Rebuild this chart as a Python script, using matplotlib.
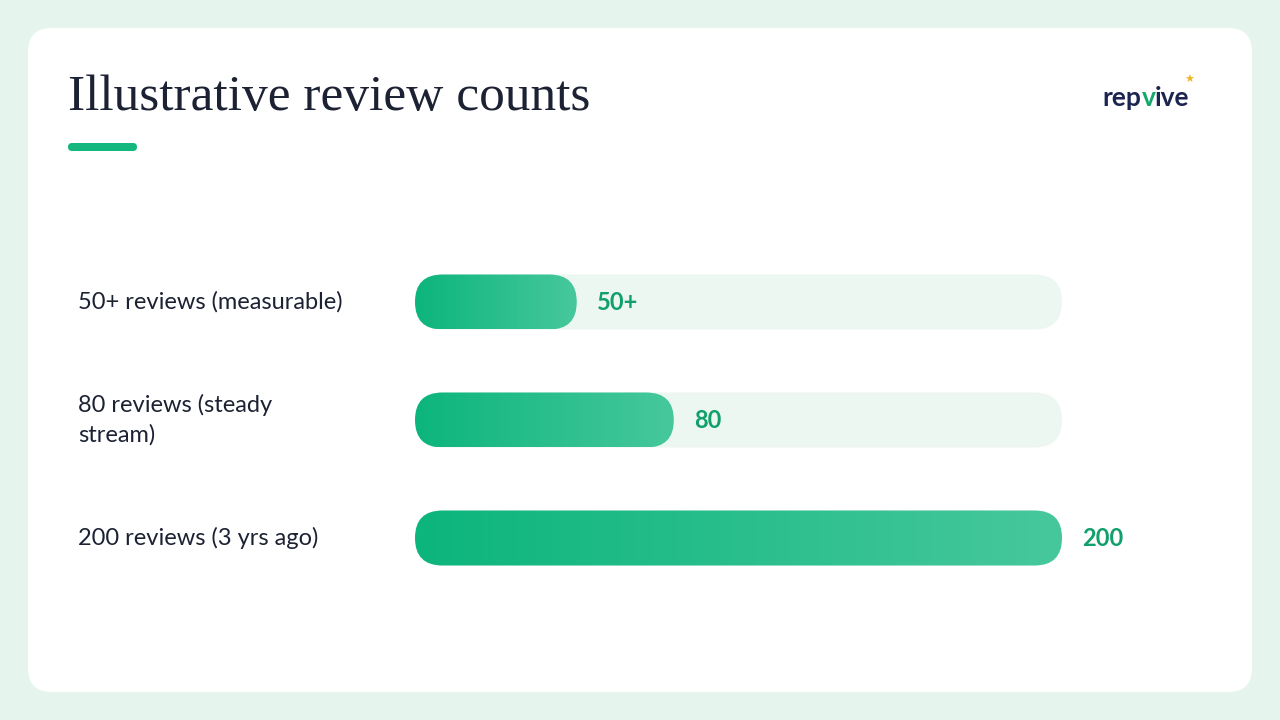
import matplotlib
matplotlib.use("Agg")
import matplotlib.pyplot as plt
import numpy as np
from matplotlib.patches import FancyBboxPatch
from matplotlib.colors import LinearSegmentedColormap

categories = ["50+ reviews (measurable)", "80 reviews (steady\nstream)", "200 reviews (3 yrs ago)"]
values = [50, 80, 200]
value_labels = ["50+", "80", "200"]
xmax = 200

W, H = 1280, 720
fig = plt.figure(figsize=(12.8, 7.2), dpi=100)
fig.patch.set_facecolor("#e6f4ee")

bg = fig.add_axes([0, 0, 1, 1]); bg.set_xlim(0, W); bg.set_ylim(H, 0); bg.axis("off")
bg.add_patch(FancyBboxPatch((28, 28), 1224, 664, boxstyle="round,pad=0,rounding_size=24",
                            fc="white", ec="none"))
bg.add_patch(FancyBboxPatch((68, 143), 69, 8, boxstyle="round,pad=0,rounding_size=4",
                            fc="#14b77e", ec="none"))
bg.text(68, 98, "Illustrative review counts", fontsize=37, family="Liberation Serif",
        color="#1c2233", va="center")
bg.text(1102, 98, "rep", fontsize=19, fontweight="bold", family="Lato", color="#1c2450", va="center")
bg.text(1142, 98, "v", fontsize=19, fontweight="bold", family="Lato", color="#14a86d", va="center")
bg.text(1155, 98, "ive", fontsize=19, fontweight="bold", family="Lato", color="#1c2450", va="center")
bg.text(1184, 80, "★", fontsize=8, color="#f0b429", va="center")

left, right, top, bottom = 415, 1062, 250, 590
ax = fig.add_axes([left / W, 1 - bottom / H, (right - left) / W, (bottom - top) / H])
pxx = (right - left) / xmax
pxy = 118.0
span = (bottom - top) / pxy
mid = (len(values) - 1) / 2
ax.axis("off")

bh = 55 / pxy
rx = 27.5 / pxx
aspect = (27.5 / pxy) / rx

grad = np.linspace(0, 1, 256).reshape(1, -1)
cmap = LinearSegmentedColormap.from_list("g", ["#0cb57c", "#47c89c"])

for i, (cat, v, lab) in enumerate(zip(categories, values, value_labels)):
    track = FancyBboxPatch((0, i - bh / 2), xmax, bh, boxstyle=f"round,pad=0,rounding_size={rx}",
                           mutation_aspect=aspect, fc="#ecf7f2", ec="none")
    ax.add_patch(track)
    bar = FancyBboxPatch((0, i - bh / 2), v, bh, boxstyle=f"round,pad=0,rounding_size={rx}",
                         mutation_aspect=aspect, fc="none", ec="none")
    ax.add_patch(bar)
    im = ax.imshow(grad, cmap=cmap, extent=[0, v, i + bh / 2, i - bh / 2], aspect="auto", zorder=2)
    im.set_clip_path(bar)
    ax.text(v + 20 / pxx, i, lab, fontsize=17, fontweight="bold", family="Lato",
            color="#11a06c", va="center", ha="left")
    ax.text(-(left - 78) / pxx, i, cat, fontsize=17, family="Lato", color="#1c2233",
            va="center", ha="left", linespacing=1.45, clip_on=False)

ax.set_xlim(0, xmax)
ax.set_ylim(mid + span / 2, mid - span / 2)
fig.savefig("out.png", dpi=100, facecolor=fig.get_facecolor())
